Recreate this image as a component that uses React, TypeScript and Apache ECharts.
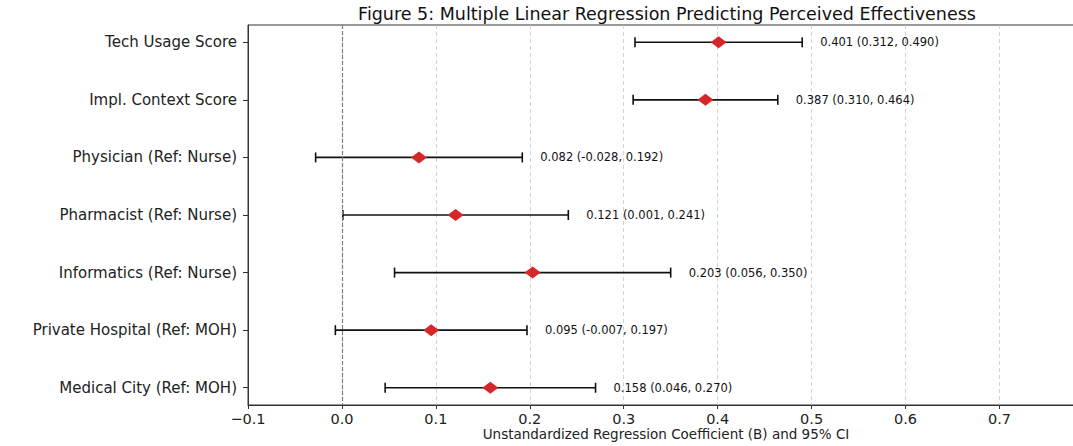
import React, { useEffect, useRef } from "react";
import * as echarts from "echarts";

const categories = [
  "Tech Usage Score",
  "Impl. Context Score",
  "Physician (Ref: Nurse)",
  "Pharmacist (Ref: Nurse)",
  "Informatics (Ref: Nurse)",
  "Private Hospital (Ref: MOH)",
  "Medical City (Ref: MOH)",
];
const coef = [0.401, 0.387, 0.082, 0.121, 0.203, 0.095, 0.158];
const lower = [0.312, 0.31, -0.028, 0.001, 0.056, -0.007, 0.046];
const upper = [0.49, 0.464, 0.192, 0.241, 0.35, 0.197, 0.27];

const titleText = "Figure 5: Multiple Linear Regression Predicting Perceived Effectiveness";
const xAxisName = "Unstandardized Regression Coefficient (B) and 95% CI";
const FONT = "DejaVu Sans";

export default function App() {
  const ref = useRef<HTMLDivElement>(null);
  useEffect(() => {
    if (!ref.current) return;
    const chart = echarts.init(ref.current, null, { renderer: "svg" });
    const idx = categories.map((_, i) => i);
    const fmt3 = (v: number) => v.toFixed(3);
    chart.setOption({
      animation: false,
      backgroundColor: "#ffffff",
      grid: {
        left: 248,
        width: 836,
        top: 25,
        height: 380,
        show: true,
        borderColor: "#333",
        borderWidth: 1,
        containLabel: false,
        outerBoundsMode: "none",
      },
      graphic: [
        {
          type: "text",
          x: 667,
          y: 14,
          style: {
            text: titleText,
            font: `17.5px "${FONT}"`,
            fill: "#111",
            textAlign: "center",
            textVerticalAlign: "middle",
          },
        },
      ],
      xAxis: {
        type: "value",
        min: -0.1,
        max: 0.79,
        interval: 0.1,
        name: xAxisName,
        nameLocation: "middle",
        nameGap: 22,
        nameMoveOverlap: false,
        nameTextStyle: { fontFamily: FONT, fontSize: 13.5, color: "#222" },
        axisLine: { show: true, onZero: false, lineStyle: { color: "#333", width: 1 } },
        axisTick: { show: true, length: 4, lineStyle: { color: "#333" } },
        axisLabel: {
          fontFamily: FONT,
          fontSize: 14.5,
          color: "#222",
          margin: 6,
          showMaxLabel: false,
          formatter: (v: number) => v.toFixed(1).replace("-", "\u2212"),
        },
        splitLine: { show: true, lineStyle: { color: "#c8c8c8", type: [4, 3], width: 0.8 } },
      },
      yAxis: {
        type: "value",
        inverse: true,
        min: -0.3,
        max: 6.3,
        axisLine: { show: true, onZero: false, lineStyle: { color: "#333", width: 1 } },
        axisTick: { show: true, length: 5, customValues: idx, lineStyle: { color: "#333" } },
        axisLabel: {
          fontFamily: FONT,
          fontSize: 15,
          color: "#222",
          margin: 11,
          customValues: idx,
          formatter: (v: number) => categories[Math.round(v)] ?? "",
        },
        splitLine: { show: false },
      },
      series: [
        {
          type: "custom",
          data: idx.map((i) => [i, lower[i], upper[i]]),
          encode: { x: [1, 2], y: 0 },
          z: 3,
          renderItem: (params: any, api: any) => {
            const i = api.value(0);
            const p1 = api.coord([api.value(1), i]);
            const p2 = api.coord([api.value(2), i]);
            const h = 5;
            const st = { stroke: "#111", lineWidth: 1.6 };
            return {
              type: "group",
              children: [
                { type: "line", shape: { x1: p1[0], y1: p1[1], x2: p2[0], y2: p2[1] }, style: st },
                { type: "line", shape: { x1: p1[0], y1: p1[1] - h, x2: p1[0], y2: p1[1] + h }, style: st },
                { type: "line", shape: { x1: p2[0], y1: p2[1] - h, x2: p2[0], y2: p2[1] + h }, style: st },
              ],
            };
          },
        },
        {
          type: "scatter",
          data: idx.map((i) => [coef[i], i]),
          symbol: "diamond",
          symbolSize: [16, 12],
          itemStyle: { color: "#d62728", opacity: 1 },
          z: 5,
          markLine: {
            silent: true,
            symbol: "none",
            label: { show: false },
            lineStyle: { color: "#808080", type: [4, 2], width: 1.2 },
            data: [{ xAxis: 0 }],
          },
        },
        {
          type: "scatter",
          data: idx.map((i) => [upper[i], i]),
          symbolSize: 0,
          itemStyle: { color: "rgba(0,0,0,0)", opacity: 1 },
          z: 4,
          label: {
            show: true,
            position: "right",
            distance: 18,
            fontFamily: FONT,
            fontSize: 11.5,
            color: "#111",
            opacity: 1,
            formatter: (p: any) =>
              `${fmt3(coef[p.dataIndex])} (${fmt3(lower[p.dataIndex])}, ${fmt3(upper[p.dataIndex])})`,
          },
        },
      ],
    });
    return () => chart.dispose();
  }, []);
  return (
    <div
      ref={ref}
      style={{ position: "absolute", left: 0, top: 0, width: 1073, height: 446 }}
    />
  );
}
